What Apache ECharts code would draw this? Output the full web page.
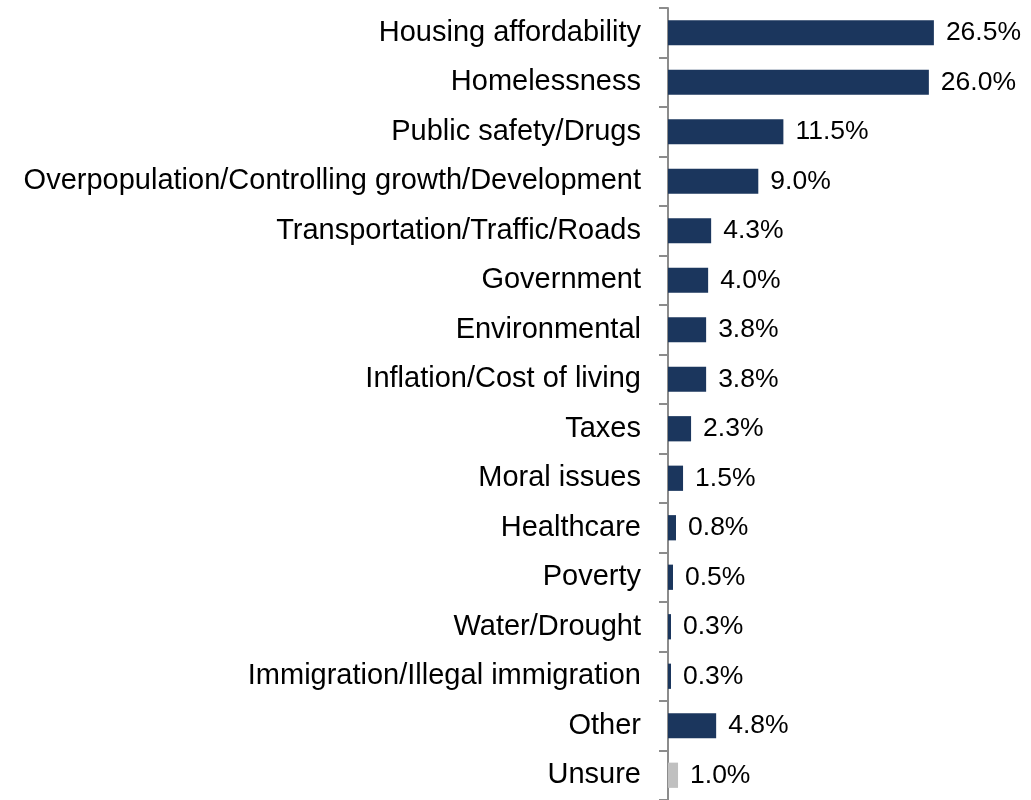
<!DOCTYPE html>
<html>
<head>
<meta charset="utf-8">
<script src="https://cdn.jsdelivr.net/npm/echarts@6/dist/echarts.min.js"></script>
<style>
  html, body { margin: 0; padding: 0; background: #fff; }
  #chart { width: 1031px; height: 800px; }
</style>
</head>
<body>
<div id="chart"></div>
<script>
  var categories = [
    'Housing affordability',
    'Homelessness',
    'Public safety/Drugs',
    'Overpopulation/Controlling growth/Development',
    'Transportation/Traffic/Roads',
    'Government',
    'Environmental',
    'Inflation/Cost of living',
    'Taxes',
    'Moral issues',
    'Healthcare',
    'Poverty',
    'Water/Drought',
    'Immigration/Illegal immigration',
    'Other',
    'Unsure'
  ];
  var values = [26.5, 26.0, 11.5, 9.0, 4.3, 4.0, 3.8, 3.8, 2.3, 1.5, 0.8, 0.5, 0.3, 0.3, 4.8, 1.0];

  var myChart = echarts.init(document.getElementById('chart'));

  var option = {
    animation: false,
    grid: {
      left: 668,
      top: 8,
      width: 301,
      height: 794
    },
    xAxis: {
      type: 'value',
      min: 0,
      max: 30,
      show: false
    },
    yAxis: {
      type: 'category',
      inverse: true,
      data: categories,
      axisLine: { show: true, lineStyle: { color: '#8c8c8c', width: 2 } },
      axisTick: { show: true, length: 9, lineStyle: { color: '#8c8c8c', width: 2 } },
      axisLabel: {
        margin: 27,
        color: '#000',
        fontFamily: 'Liberation Sans',
        fontSize: 29
      }
    },
    series: [{
      type: 'bar',
      barWidth: '51%',
      data: values.map(function (v, i) {
        return {
          value: v,
          itemStyle: { color: categories[i] === 'Unsure' ? '#c0c0c0' : '#1b365d' }
        };
      }),
      label: {
        show: true,
        position: 'right',
        distance: 12,
        color: '#000',
        fontFamily: 'Liberation Sans',
        fontSize: 26.5,
        formatter: function (p) { return p.value.toFixed(1) + '%'; }
      }
    }]
  };
  myChart.setOption(option);
</script>
</body>
</html>
